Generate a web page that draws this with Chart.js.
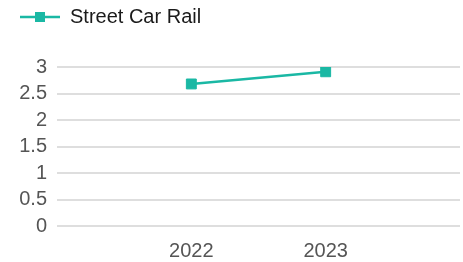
<!DOCTYPE html>
<html>
<head>
<meta charset="utf-8">
<script src="https://cdn.jsdelivr.net/npm/chart.js@4/dist/chart.umd.min.js"></script>
<style>
  html, body { margin: 0; padding: 0; background: #fff; }
  #wrap { width: 463px; height: 262px; }
</style>
</head>
<body>
<div id="wrap"><canvas id="chart" width="463" height="262"></canvas></div>
<script>
const years = ["", "2022", "2023", ""];
const streetCarRail = [null, 2.68, 2.91, null];
const yTicks = [0, 0.5, 1, 1.5, 2, 2.5, 3];

const teal = "#1ab8a4";
const fontFamily = "'Liberation Sans', Arial, sans-serif";

// legend symbol: short line with a square in the middle (left blank margin included)
function legendIcon() {
    const c = document.createElement("canvas");
    c.width = 53;
    c.height = 12;
    const g = c.getContext("2d");
    g.strokeStyle = teal;
    g.lineWidth = 2.5;
    g.beginPath();
    g.moveTo(13, 6);
    g.lineTo(53, 6);
    g.stroke();
    g.fillStyle = teal;
    g.fillRect(28, 1, 10, 10);
    return c;
}

const icon = legendIcon();

const legendHeight = {
    id: "legendHeight",
    beforeInit(chart) {
        const fit = chart.legend.fit;
        chart.legend.fit = function () {
            fit.bind(chart.legend)();
            this.height = 67;
        };
    }
};

new Chart(document.getElementById("chart").getContext("2d"), {
    type: "line",
    data: {
        labels: years,
        datasets: [{
            label: "Street Car Rail",
            data: streetCarRail,
            borderColor: teal,
            backgroundColor: teal,
            borderWidth: 2.5,
            pointStyle: "rect",
            pointRadius: 7,
            pointHoverRadius: 7,
            pointBorderWidth: 1
        }]
    },
    options: {
        responsive: false,
        animation: false,
        layout: { autoPadding: false, padding: { left: 0, right: 3, top: 0, bottom: 0 } },
        plugins: {
            tooltip: { enabled: false },
            legend: {
                position: "top",
                align: "start",
                labels: {
                    usePointStyle: true,
                    pointStyleWidth: 53,
                    padding: 7,
                    color: "#1a1a1a",
                    font: { family: fontFamily, size: 20 },
                    generateLabels: function (chart) {
                        return chart.data.datasets.map((ds, i) => ({
                            text: ds.label,
                            pointStyle: icon,
                            fillStyle: teal,
                            strokeStyle: teal,
                            lineWidth: 0,
                            datasetIndex: i,
                            fontColor: "#1a1a1a"
                        }));
                    }
                }
            }
        },
        scales: {
            x: {
                offset: false,
                grid: { display: false, drawTicks: false },
                border: { display: false },
                afterFit: function (axis) {
                    axis.height = 36;
                    axis.paddingLeft = 0;
                    axis.paddingRight = 0;
                },
                ticks: {
                    color: "#555",
                    padding: 13,
                    autoSkip: false,
                    maxRotation: 0,
                    font: { family: fontFamily, size: 20 }
                }
            },
            y: {
                min: 0,
                max: 3,
                afterBuildTicks: function (axis) {
                    axis.ticks = yTicks.map(v => ({ value: v }));
                },
                afterFit: function (axis) {
                    axis.width = 57;
                    axis.paddingTop = 0;
                    axis.paddingBottom = 0;
                },
                grid: { color: "#dedede", lineWidth: 2, drawTicks: false },
                border: { display: false },
                ticks: {
                    autoSkip: false,
                    color: "#555",
                    padding: 10,
                    font: { family: fontFamily, size: 20 },
                    callback: function (v) { return String(v); }
                }
            }
        }
    },
    plugins: [legendHeight]
});
</script>
</body>
</html>
